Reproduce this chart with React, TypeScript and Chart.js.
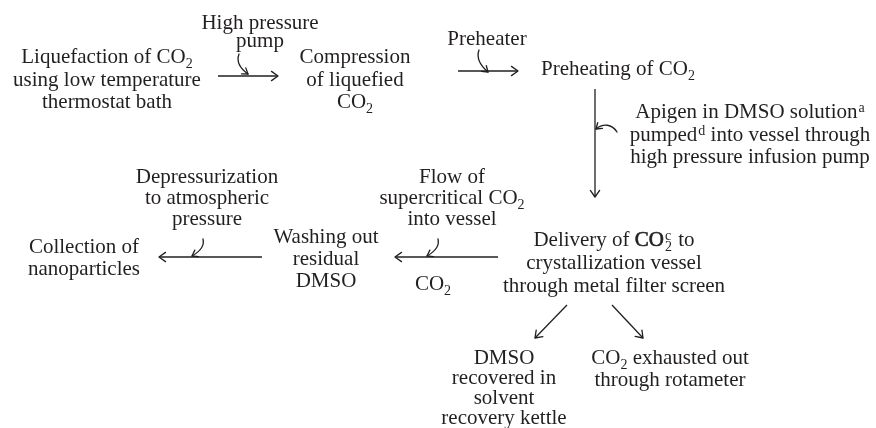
import React, { useEffect, useRef } from "react";
import { Chart, registerables } from "chart.js";

Chart.register(...registerables);

const FONT = '"Liberation Serif", "Times New Roman", serif';
const FONT_SIZE = 21;
const SMALL_SIZE = 14;
const INK = "#231f20";

// Node texts. Markup: _{sub}  ^{sup}  ~{sup|sub}  *{heavier}
const nodeLabels: string[][] = [
  ["Liquefaction of CO_{2}", "using low temperature", "thermostat bath"],
  ["Compression", "of liquefied", "CO_{2}"],
  ["Preheating of CO_{2}"],
  ["Apigen in DMSO solution^{a}", "pumped^{d} into vessel through", "high pressure infusion pump"],
  ["Delivery of *{CO}~{c|2} to", "crystallization vessel", "through metal filter screen"],
  ["DMSO", "recovered in", "solvent", "recovery kettle"],
  ["CO_{2} exhausted out", "through rotameter"],
  ["Flow of", "supercritical CO_{2}", "into vessel"],
  ["CO_{2}"],
  ["Washing out", "residual", "DMSO"],
  ["Depressurization", "to atmospheric", "pressure"],
  ["Collection of", "nanoparticles"],
  ["High pressure", "pump"],
  ["Preheater"],
];
// node anchor: centre x, first-line baseline y, line gap (diagram units)
const nodeX = [107, 355, 618, 750, 614, 504, 670, 452, 433, 326, 207, 84, 260, 487];
const nodeY = [63, 63, 75, 118, 246, 364, 364, 183, 290, 243, 183, 253, 29, 45];
const nodeGap = [22.5, 22.5, 22, 22.5, 23, 20, 22, 21, 22, 22, 21, 22, 18, 22];

// Straight arrows: start -> end (diagram units)
const arrowStart: [number, number][] = [
  [218, 76], [458, 71], [595, 89], [498, 257], [262, 257], [567, 305], [612, 305],
];
const arrowEnd: [number, number][] = [
  [278, 76], [518, 71], [595, 197], [395, 257], [159, 257], [535, 338], [643, 338],
];

// Small curved "input" arrows: start, control 1, control 2, end
const hookPaths: [number, number][][] = [
  [[239, 54], [236, 62], [241, 69], [248, 74]],
  [[479, 50], [476, 58], [481, 66], [488, 72]],
  [[617, 132], [612, 124], [603, 123], [596, 129]],
  [[203, 239], [205, 247], [199, 252], [192, 256]],
  [[438, 239], [440, 247], [434, 252], [427, 256]],
];

type Seg = { t: string; kind: "n" | "sub" | "sup" | "both" | "bold"; a?: string; b?: string };

function parseRich(s: string): Seg[] {
  const parts = s.split(/(_\{[^}]*\}|\^\{[^}]*\}|~\{[^}]*\}|\*\{[^}]*\})/g).filter((p) => p.length);
  return parts.map((p) => {
    const inner = p.length > 3 ? p.slice(2, -1) : "";
    if (p.startsWith("_{")) return { t: inner, kind: "sub" };
    if (p.startsWith("^{")) return { t: inner, kind: "sup" };
    if (p.startsWith("~{")) {
      const [a, b] = inner.split("|");
      return { t: inner, kind: "both", a, b };
    }
    if (p.startsWith("*{")) return { t: inner, kind: "bold" };
    return { t: p, kind: "n" };
  });
}

const fNorm = `${FONT_SIZE}px ${FONT}`;
const fSmall = `${SMALL_SIZE}px ${FONT}`;

function segWidth(ctx: CanvasRenderingContext2D, s: Seg): number {
  if (s.kind === "n") { ctx.font = fNorm; return ctx.measureText(s.t).width; }
  if (s.kind === "bold") { ctx.font = fNorm; return ctx.measureText(s.t).width + 1; }
  ctx.font = fSmall;
  if (s.kind === "both") return Math.max(ctx.measureText(s.a || "").width, ctx.measureText(s.b || "").width) + 1;
  return ctx.measureText(s.t).width + (s.kind === "sup" ? 1 : 0);
}

function drawRich(ctx: CanvasRenderingContext2D, text: string, cx: number, by: number) {
  const segs = parseRich(text);
  const widths = segs.map((s) => segWidth(ctx, s));
  const total = widths.reduce((a, b) => a + b, 0);
  let x = cx - total / 2;
  ctx.textAlign = "left";
  ctx.textBaseline = "alphabetic";
  segs.forEach((s, i) => {
    if (s.kind === "n") { ctx.font = fNorm; ctx.fillText(s.t, x, by); }
    else if (s.kind === "bold") {
      ctx.font = fNorm;
      ctx.fillText(s.t, x, by);
      ctx.save();
      ctx.lineWidth = 0.6;
      ctx.strokeText(s.t, x, by);
      ctx.restore();
    }
    else if (s.kind === "sub") { ctx.font = fSmall; ctx.fillText(s.t, x, by + 4.5); }
    else if (s.kind === "sup") { ctx.font = fSmall; ctx.fillText(s.t, x + 1, by - 6); }
    else { ctx.font = fSmall; ctx.fillText(s.a || "", x, by - 6); ctx.fillText(s.b || "", x, by + 4.5); }
    x += widths[i];
  });
}

function arrowHead(ctx: CanvasRenderingContext2D, x: number, y: number, ang: number, len = 8, spread = 0.62) {
  ctx.beginPath();
  ctx.moveTo(x - len * Math.cos(ang - spread), y - len * Math.sin(ang - spread));
  ctx.lineTo(x, y);
  ctx.lineTo(x - len * Math.cos(ang + spread), y - len * Math.sin(ang + spread));
  ctx.stroke();
}

const flowPlugin = {
  id: "flowDiagram",
  afterDatasetsDraw(chart: any) {
    const ctx: CanvasRenderingContext2D = chart.ctx;
    const xs = chart.scales.x;
    const ys = chart.scales.y;
    const px = (v: number) => xs.getPixelForValue(v);
    const py = (v: number) => ys.getPixelForValue(v);
    ctx.save();
    ctx.strokeStyle = INK;
    ctx.fillStyle = INK;
    ctx.lineWidth = 1.3;
    ctx.lineCap = "round";
    ctx.lineJoin = "round";
    // arrowheads on straight arrows (from dataset geometry)
    chart.data.datasets.forEach((_: any, i: number) => {
      const pts = chart.getDatasetMeta(i).data;
      const a = pts[pts.length - 2];
      const b = pts[pts.length - 1];
      arrowHead(ctx, b.x, b.y, Math.atan2(b.y - a.y, b.x - a.x));
    });
    // curved input arrows
    hookPaths.forEach((h) => {
      const p = h.map(([x, y]) => [px(x), py(y)]);
      ctx.beginPath();
      ctx.moveTo(p[0][0], p[0][1]);
      ctx.bezierCurveTo(p[1][0], p[1][1], p[2][0], p[2][1], p[3][0], p[3][1]);
      ctx.stroke();
      arrowHead(ctx, p[3][0], p[3][1], Math.atan2(p[3][1] - p[2][1], p[3][0] - p[2][0]), 6.5, 0.6);
    });
    // node texts
    nodeLabels.forEach((lines, i) => {
      lines.forEach((ln, j) => {
        drawRich(ctx, ln, px(nodeX[i]), py(nodeY[i] + j * nodeGap[i]));
      });
    });
    ctx.restore();
  },
};

export default function App() {
  const ref = useRef<HTMLCanvasElement | null>(null);
  useEffect(() => {
    document.body.style.margin = "0";
    document.body.style.background = "#ffffff";
    if (!ref.current) return;
    const chart = new Chart(ref.current, {
      type: "scatter",
      data: {
        datasets: arrowStart.map((s, i) => ({
          data: [{ x: s[0], y: s[1] }, { x: arrowEnd[i][0], y: arrowEnd[i][1] }],
          showLine: true,
          borderColor: INK,
          borderWidth: 1.3,
          pointRadius: 0,
          pointHoverRadius: 0,
          fill: false,
          clip: false as any,
        })),
      },
      options: {
        responsive: false,
        animation: false,
        devicePixelRatio: 1,
        layout: { padding: 0 },
        events: [],
        plugins: { legend: { display: false }, tooltip: { enabled: false } },
        scales: {
          x: { type: "linear", min: 0, max: 876, display: false },
          y: { type: "linear", min: 0, max: 428, reverse: true, display: false },
        },
      },
      plugins: [flowPlugin],
    });
    return () => chart.destroy();
  }, []);
  return (
    <div style={{ width: 876, height: 428, background: "#fff" }}>
      <canvas ref={ref} width={876} height={428} style={{ display: "block" }} />
    </div>
  );
}
